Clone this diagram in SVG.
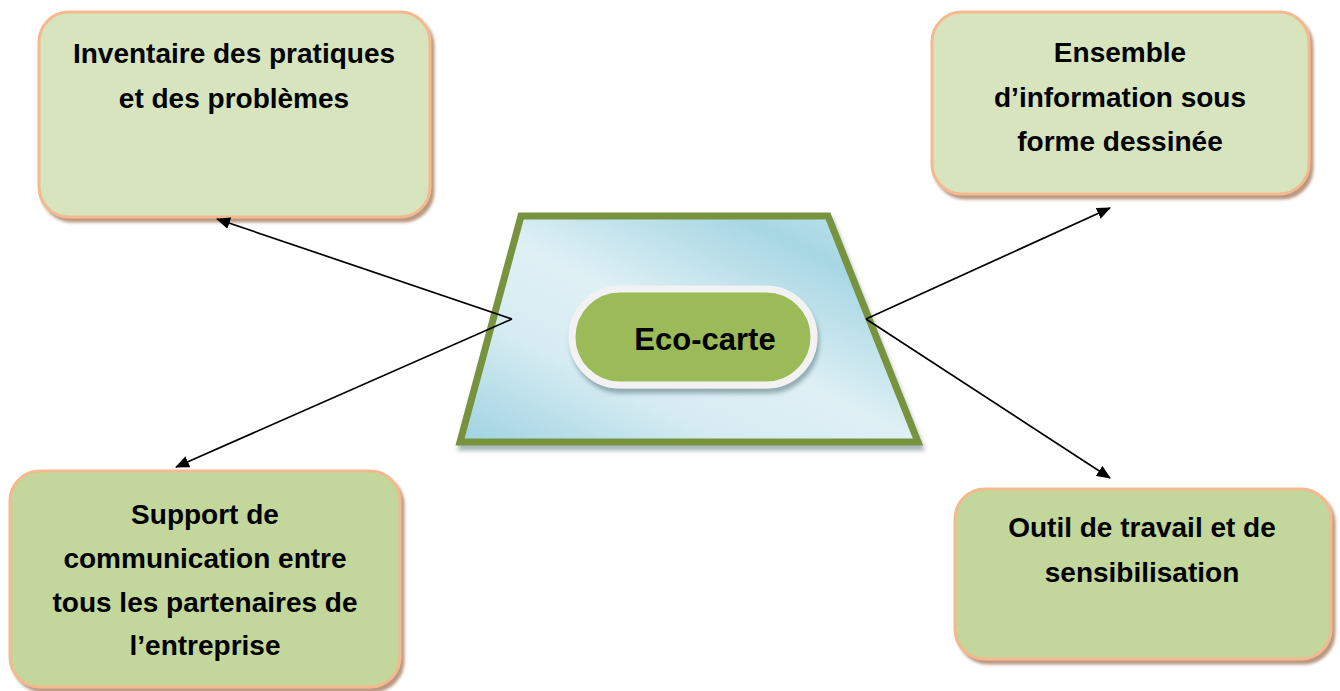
<svg xmlns="http://www.w3.org/2000/svg" width="1340" height="691" viewBox="0 0 1340 691">
<style>
.box{stroke:#f4b98e;stroke-width:3}
.light{fill:#d7e4bd}
.dark{fill:#c3d69b}
.t{font-family:"Liberation Sans",Arial,sans-serif;font-weight:bold;font-size:28px;fill:#000;text-anchor:middle}
.conn{stroke:#000;stroke-width:1.7;fill:none}
</style>
<defs>
<filter id="sh" x="-10%" y="-10%" width="125%" height="125%">
<feDropShadow dx="3" dy="4" stdDeviation="1.5" flood-color="#9a6a48" flood-opacity="0.7"/>
</filter>
<filter id="sh2" x="-10%" y="-10%" width="125%" height="125%">
<feDropShadow dx="2" dy="5" stdDeviation="2" flood-color="#4a6a70" flood-opacity="0.5"/>
</filter>
<linearGradient id="blue" x1="0" y1="1" x2="1" y2="0">
<stop offset="0" stop-color="#9fd3e2"/>
<stop offset="0.3" stop-color="#d6ecf2"/>
<stop offset="0.5" stop-color="#dff0f5"/>
<stop offset="0.8" stop-color="#a7d7e4"/>
<stop offset="1" stop-color="#c3e5ee"/>
</linearGradient>
<marker id="ah" viewBox="0 0 14 12" refX="13" refY="6" markerWidth="14" markerHeight="12" markerUnits="userSpaceOnUse" orient="auto">
<path d="M0,0 L14,6 L0,12 z" fill="#000"/>
</marker>
</defs>

<g id="eco-carte">
<polygon points="521,216 828,216 918,442 460,442" fill="url(#blue)" stroke="#77933c" stroke-width="7" stroke-linejoin="miter" filter="url(#sh2)"/>
<rect x="572" y="289" width="242" height="96" rx="48" fill="#9bbb59" stroke="#f2f2f2" stroke-width="7" filter="url(#sh2)"/>
<text class="t" x="705" y="350" style="font-size:31px">Eco-carte</text>
</g>

<g id="inventaire">
<rect class="box light" x="39" y="12" width="391" height="205" rx="30" filter="url(#sh)"/>
<text class="t" x="234" y="63">Inventaire des pratiques</text>
<text class="t" x="234" y="108">et des problèmes</text>
</g>

<g id="ensemble">
<rect class="box light" x="932" y="12" width="377" height="182" rx="30" filter="url(#sh)"/>
<text class="t" x="1120" y="62">Ensemble</text>
<text class="t" x="1120" y="107">d’information sous</text>
<text class="t" x="1120" y="151">forme dessinée</text>
</g>

<g id="support">
<rect class="box dark" x="10" y="471" width="390" height="216" rx="30" filter="url(#sh)"/>
<text class="t" x="205" y="524">Support de</text>
<text class="t" x="205" y="568">communication entre</text>
<text class="t" x="205" y="612">tous les partenaires de</text>
<text class="t" x="205" y="655">l’entreprise</text>
</g>

<g id="outil">
<rect class="box dark" x="955" y="489" width="376" height="170" rx="30" filter="url(#sh)"/>
<text class="t" x="1142" y="537">Outil de travail et de</text>
<text class="t" x="1142" y="582">sensibilisation</text>
</g>

<g id="connectors">
<line class="conn" x1="512" y1="319" x2="217" y2="219" marker-end="url(#ah)"/>
<line class="conn" x1="512" y1="319" x2="176" y2="467" marker-end="url(#ah)"/>
<line class="conn" x1="866" y1="319" x2="1110" y2="208" marker-end="url(#ah)"/>
<line class="conn" x1="866" y1="319" x2="1110" y2="478" marker-end="url(#ah)"/>
</g>
</svg>
